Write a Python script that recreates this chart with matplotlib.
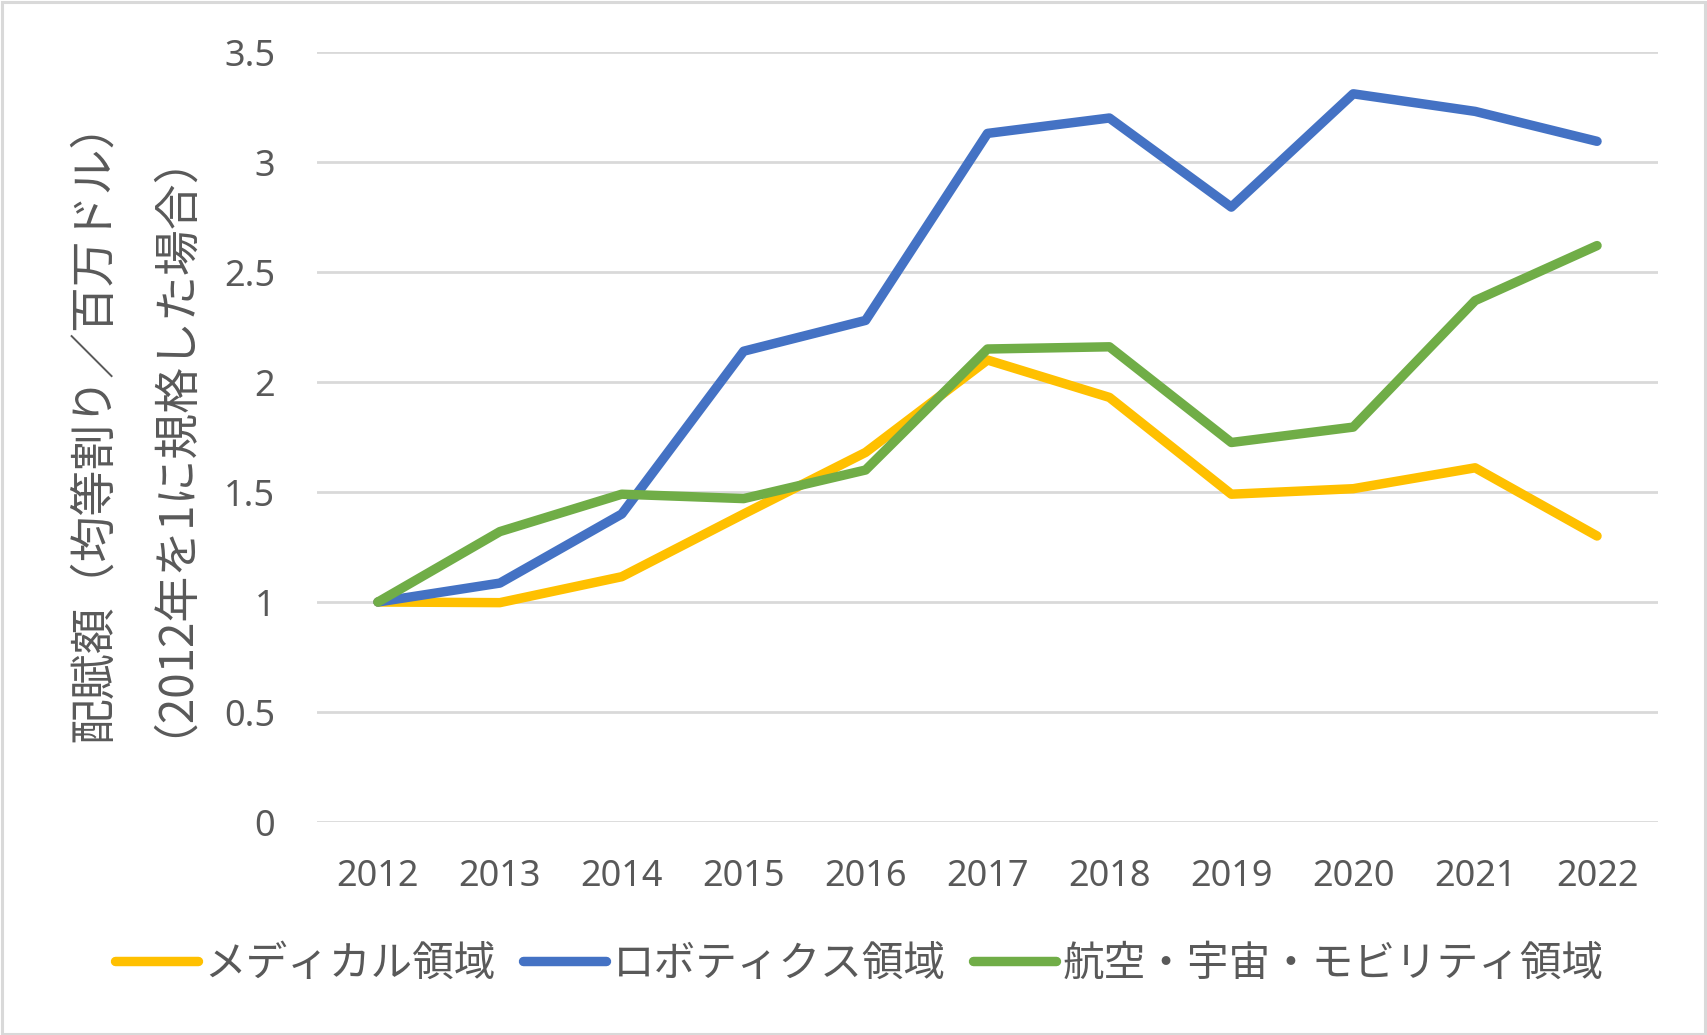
import matplotlib
matplotlib.use("Agg")
import matplotlib.pyplot as plt
from matplotlib.patches import Rectangle

years = ["2012", "2013", "2014", "2015", "2016", "2017", "2018", "2019", "2020", "2021", "2022"]
medical = [1.00, 0.997, 1.115, 1.40, 1.68, 2.10, 1.93, 1.49, 1.515, 1.61, 1.30]
robotics = [1.00, 1.086, 1.40, 2.14, 2.28, 3.13, 3.20, 2.795, 3.31, 3.23, 3.094]
aero = [1.00, 1.32, 1.49, 1.47, 1.60, 2.15, 2.16, 1.725, 1.795, 2.37, 2.62]
series_names = ["メディカル領域", "ロボティクス領域", "航空・宇宙・モビリティ領域"]
colors = ["#FFC000", "#4472C4", "#70AD47"]
yticks = [0, 0.5, 1, 1.5, 2, 2.5, 3, 3.5]
ytick_labels = ["0", "0.5", "1", "1.5", "2", "2.5", "3", "3.5"]
ylabel_lines = ["配賦額（均等割り／百万ドル）", "（2012年を1に規格した場合）"]

JP = ["Noto Sans CJK JP", "DejaVu Sans"]
TXT = "#595959"

W, H = 1708, 1035
fig = plt.figure(figsize=(W / 100, H / 100), dpi=100)
ax = fig.add_axes([317 / W, 1 - 822 / H, (1658 - 317) / W, (822 - 52) / H])

x = list(range(len(years)))
for vals, name, c in zip([medical, robotics, aero], series_names, colors):
    ax.plot(x, vals, color=c, lw=6.8, solid_capstyle="round",
            solid_joinstyle="round", label=name)

ax.set_xlim(-0.5, len(years) - 0.5)
ax.set_ylim(0, 3.5)
ax.set_yticks(yticks)
ax.set_yticklabels(ytick_labels)
ax.set_xticks(x)
ax.set_xticklabels(years)
for s in ax.spines.values():
    s.set_visible(False)
ax.grid(axis="y", color="#D9D9D9", lw=2.0)
ax.set_axisbelow(True)
ax.tick_params(axis="both", length=0, labelcolor=TXT, labelsize=26)
ax.tick_params(axis="y", pad=30)
ax.tick_params(axis="x", pad=27)
for lab in ax.get_xticklabels() + ax.get_yticklabels():
    lab.set_family(["Noto Sans", "DejaVu Sans"])

fig.text(121 / W, 1 - 421 / H, "\n".join(ylabel_lines), rotation=90, ha="center",
         va="center", multialignment="center", linespacing=1.15,
         fontsize=33, color=TXT, family=JP)

leg = fig.legend(loc="center", bbox_to_anchor=(0.503, 1 - 964 / H), ncol=3, frameon=False,
                 handlelength=2.0, handletextpad=0.15, columnspacing=0.65,
                 prop={"family": JP, "size": 30})
for t in leg.get_texts():
    t.set_color(TXT)

fig.patches.append(Rectangle((0.001, 0.001), 0.997, 0.997, transform=fig.transFigure,
                             fill=False, edgecolor="#D9D9D9", lw=2.2))

fig.savefig("out.png", dpi=100, facecolor="white")
